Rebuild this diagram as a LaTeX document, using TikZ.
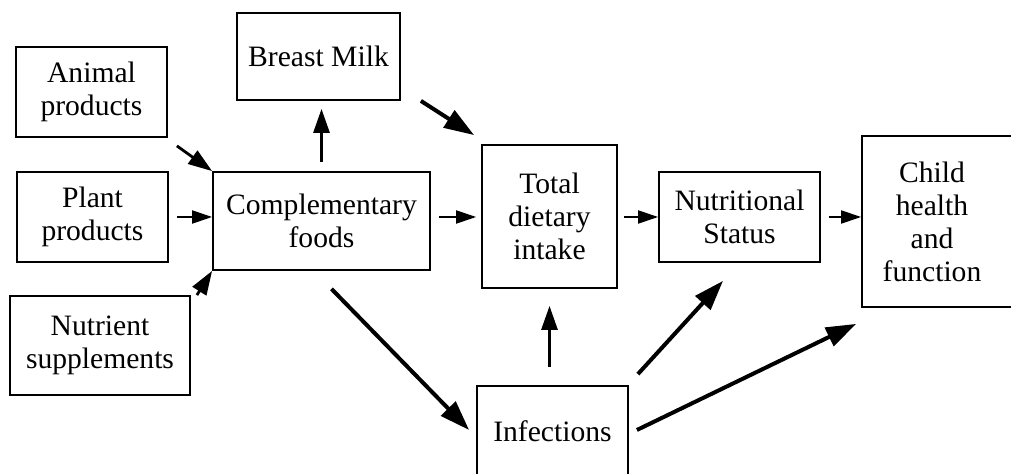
\documentclass[tikz,border=0pt]{standalone}
\usepackage{fontspec}
\setmainfont{Liberation Serif}
\usetikzlibrary{arrows.meta,positioning}

\begin{document}
\begin{tikzpicture}[x=0.5pt,y=-0.5pt,
  box/.style={draw,line width=0.9pt,align=center,inner sep=0pt,font=\fontsize{14.8}{16.5}\selectfont},
  arr/.style={-{Triangle[length=10pt,width=6.5pt]},line width=1pt},
  midarr/.style={-{Triangle[length=12pt,width=8pt]},line width=1.4pt},
  bigarr/.style={-{Triangle[length=15pt,width=10pt]},line width=2pt}]
\useasboundingbox (0,0) rectangle (1011,474);
\clip (0,0) rectangle (1011,474);
% boxes
\node[box,minimum width=75.5pt,minimum height=45pt] (animal) at (91.5,92) {Animal\\products};
\node[box,minimum width=81.5pt,minimum height=43.5pt] (breast) at (318.5,56.5) {Breast Milk};
\node[box,minimum width=75.5pt,minimum height=45pt] (plant) at (92.5,217) {Plant\\products};
\node[box,minimum width=108.5pt,minimum height=49pt] (comp) at (321.5,221) {Complementary\\foods};
\node[box,minimum width=90pt,minimum height=49.5pt] (nutrient) at (100,345.5) {Nutrient\\supplements};
\node[box,minimum width=67.5pt,minimum height=71.5pt] (total) at (549.5,216.5) {Total\\dietary\\intake};
\node[box,minimum width=80.5pt,minimum height=45pt] (nutr) at (739.5,217) {Nutritional\\Status};
\node[box,minimum width=76.5pt,minimum height=85.5pt] (child) at (938.5,221.5) {};
\node[box,draw=none] (childtxt) at (932,221.5) {Child\\health\\and\\function};
\node[box,minimum width=75.5pt,minimum height=45pt] (infect) at (552.5,431) {Infections};
% arrows
\draw[midarr] ([shift={(9,8)}]animal.south east) -- (comp.north west);
\draw[arr,shorten <=4pt] (plant.east) -- (plant.east -| comp.west);
\draw[midarr] ([shift={(6,0)}]nutrient.north east) -- (comp.south west);
\draw[midarr,shorten <=4.5pt,shorten >=4pt] (comp.north) -- (comp.north |- breast.south);
\draw[bigarr] ([shift={(20,0)}]breast.south east) -- ([shift={(-7,-9)}]total.north west);
\draw[arr,shorten <=4pt,shorten >=2.5pt] (comp.east |- plant) -- (total.west |- plant);
\draw[arr,shorten <=3pt] (total.east |- nutr) -- (nutr.west);
\draw[arr,shorten <=4pt] (nutr.east) -- (nutr.east -| child.west);
\draw[bigarr] ([shift={(10,18)}]comp.south) -- ([shift={(-7,-1)}]infect.west);
\draw[midarr,shorten <=9pt,shorten >=8.5pt] (infect.north -| total.south) -- (total.south);
\draw[bigarr] ([shift={(9,-11)}]infect.north east) -- ([shift={(-16.5,18)}]nutr.south);
\draw[bigarr] ([shift={(8,-1)}]infect.east) -- ([shift={(-5,16)}]child.south west);
\end{tikzpicture}
\end{document}
